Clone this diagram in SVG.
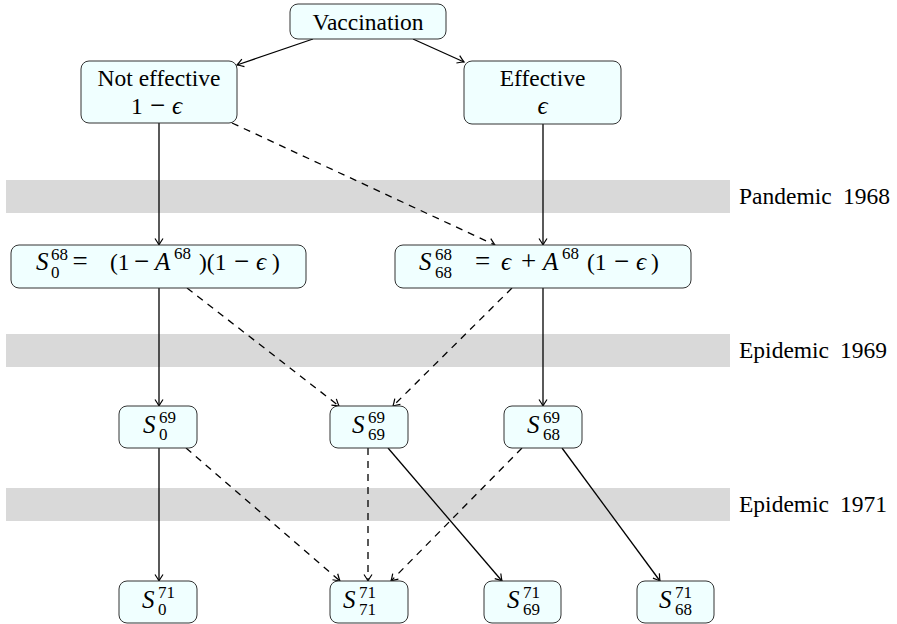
<svg xmlns="http://www.w3.org/2000/svg" width="897" height="624" viewBox="0 0 897 624">
<defs>
<style>
.box{fill:#f0ffff;stroke:#333;stroke-width:1}
text{font-family:'Liberation Serif',serif;fill:#000}
.t{font-size:23.5px}
.m{font-size:25px;font-style:italic}
.s{font-size:17px}
.o{font-size:27px;text-anchor:middle}
.band{fill:#d9d9d9}
.c{fill:none;stroke:#000;stroke-width:1.3;marker-end:url(#arr)}
.d{stroke-dasharray:7 6}
</style>
<marker id="arr" markerUnits="userSpaceOnUse" markerWidth="12" markerHeight="12" viewBox="-8 -6 10 12" refX="0" refY="0" orient="auto">
<path d="M-6.5,-4 Q-2,-1 0,0 Q-2,1 -6.5,4" fill="none" stroke="#000" stroke-width="1.2"/>
</marker>
</defs>
<g id="bands">
<rect class="band" x="6" y="180" width="724" height="33"/>
<rect class="band" x="6" y="334" width="724" height="33"/>
<rect class="band" x="6" y="488" width="724" height="33"/>
<text class="t" x="739" y="204">Pandemic<tspan x="843">1968</tspan></text>
<text class="t" x="739" y="358">Epidemic<tspan x="840">1969</tspan></text>
<text class="t" x="739" y="512">Epidemic<tspan x="840">1971</tspan></text>
</g>
<g id="connectors">
<path class="c" d="M313,39 L237,65"/>
<path class="c" d="M413,39 L464,62"/>
<path class="c" d="M159,123 L159,245"/>
<path class="c" d="M543,124 L543,245"/>
<path class="c d" d="M232,123 L495,245"/>
<path class="c" d="M159,288 L159,406"/>
<path class="c d" d="M187,288 L339,406"/>
<path class="c d" d="M512,288 L393,406"/>
<path class="c" d="M543,288 L543,406"/>
<path class="c" d="M159,448 L159,581"/>
<path class="c d" d="M186,448 L340,581"/>
<path class="c d" d="M368,448 L368,581"/>
<path class="c" d="M388,448 L502,581"/>
<path class="c d" d="M522,448 L391,581"/>
<path class="c" d="M562,448 L660,581"/>
</g>
<g id="vaccination">
<rect class="box" x="290" y="4" width="156" height="35" rx="8"/>
<text class="t" x="368" y="30" text-anchor="middle">Vaccination</text>
</g>
<g id="not-effective">
<rect class="box" x="81" y="61" width="156" height="62" rx="8"/>
<text class="t" x="159" y="86" text-anchor="middle">Not effective</text>
<text class="t" x="131" y="114">1</text>
<text class="o" x="157.5" y="114">−</text>
<text class="m" x="172" y="114">ϵ</text>
</g>
<g id="effective">
<rect class="box" x="464" y="61" width="157" height="63" rx="8"/>
<text class="t" x="542.5" y="86" text-anchor="middle">Effective</text>
<text class="m" x="542.5" y="114" text-anchor="middle">ϵ</text>
</g>
<g id="s0-68">
<rect class="box" x="11" y="245" width="295" height="43" rx="8"/>
<text class="m" x="36" y="270">S</text>
<text class="s" x="51" y="260">68</text>
<text class="s" x="51" y="278">0</text>
<text class="o" x="80" y="270">=</text>
<text class="t" x="110" y="270">(1</text>
<text class="o" x="141.5" y="270">−</text>
<text class="m" x="155" y="270">A</text>
<text class="s" x="174" y="259">68</text>
<text class="t" x="199" y="270">)(1</text>
<text class="o" x="241.5" y="270">−</text>
<text class="m" x="256" y="270">ϵ</text>
<text class="t" x="272" y="270">)</text>
</g>
<g id="s68-68">
<rect class="box" x="395" y="245" width="296" height="43" rx="8"/>
<text class="m" x="419" y="270">S</text>
<text class="s" x="435" y="260">68</text>
<text class="s" x="435" y="278">68</text>
<text class="o" x="482.5" y="270">=</text>
<text class="m" x="501" y="270">ϵ</text>
<text class="o" x="528.5" y="270">+</text>
<text class="m" x="543" y="270">A</text>
<text class="s" x="562" y="259">68</text>
<text class="t" x="587" y="270">(1</text>
<text class="o" x="621.5" y="270">−</text>
<text class="m" x="636" y="270">ϵ</text>
<text class="t" x="651" y="270">)</text>
</g>
<g id="s0-69">
<rect class="box" x="119" y="406" width="78" height="42" rx="8"/>
<text class="m" x="143" y="432.5">S</text>
<text class="s" x="159" y="423">69</text>
<text class="s" x="159" y="440">0</text>
</g>
<g id="s69-69">
<rect class="box" x="330" y="406" width="78" height="42" rx="8"/>
<text class="m" x="352" y="432.5">S</text>
<text class="s" x="368" y="423">69</text>
<text class="s" x="368" y="440">69</text>
</g>
<g id="s68-69">
<rect class="box" x="504" y="406" width="78" height="42" rx="8"/>
<text class="m" x="527" y="432.5">S</text>
<text class="s" x="543" y="423">69</text>
<text class="s" x="543" y="440">68</text>
</g>
<g id="s0-71">
<rect class="box" x="119" y="581" width="78" height="42" rx="8"/>
<text class="m" x="142" y="607.5">S</text>
<text class="s" x="158" y="598">71</text>
<text class="s" x="158" y="615">0</text>
</g>
<g id="s71-71">
<rect class="box" x="330" y="581" width="78" height="42" rx="8"/>
<text class="m" x="343" y="607.5">S</text>
<text class="s" x="359" y="598">71</text>
<text class="s" x="359" y="615">71</text>
</g>
<g id="s69-71">
<rect class="box" x="484" y="581" width="77" height="42" rx="8"/>
<text class="m" x="507" y="607.5">S</text>
<text class="s" x="523" y="598">71</text>
<text class="s" x="523" y="615">69</text>
</g>
<g id="s68-71">
<rect class="box" x="637" y="581" width="77" height="42" rx="8"/>
<text class="m" x="659" y="607.5">S</text>
<text class="s" x="675" y="598">71</text>
<text class="s" x="675" y="615">68</text>
</g>
</svg>
